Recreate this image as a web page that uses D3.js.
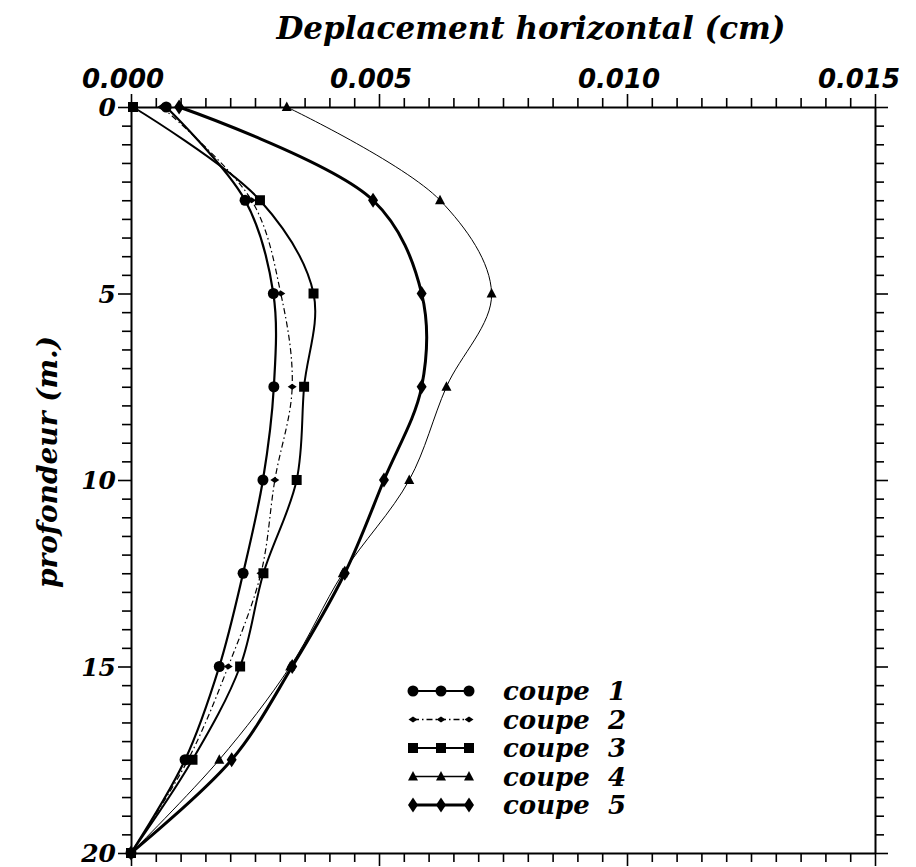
<!DOCTYPE html>
<html>
<head>
<meta charset="utf-8">
<script src="https://cdn.jsdelivr.net/npm/d3@7"></script>
<style>
  body { margin: 0; background: #fff; }
  svg text { fill: #000; }
</style>
</head>
<body>
<div class="graph"></div>
<script>
// depth (m) on the vertical, horizontal displacement (cm) on the horizontal
const depths = [0, 2.5, 5, 7.5, 10, 12.5, 15, 17.5, 20];
const coupe1 = [0.00071, 0.00230, 0.00287, 0.00288, 0.00266, 0.00226, 0.00178, 0.00109, 0];
const coupe2 = [0.00062, 0.00243, 0.00302, 0.00325, 0.00290, 0.00262, 0.00196, 0.00115, 0];
const coupe3 = [0.00004, 0.00260, 0.00368, 0.00349, 0.00334, 0.00267, 0.00220, 0.00124, 0];
const coupe4 = [0.00314, 0.00623, 0.00727, 0.00636, 0.00561, 0.00427, 0.00321, 0.00178, 0];
const coupe5 = [0.00097, 0.00488, 0.00586, 0.00586, 0.00510, 0.00431, 0.00325, 0.00203, 0];
const seriesNames = ["coupe  1", "coupe  2", "coupe  3", "coupe  4", "coupe  5"];
const xTickValues = [0, 0.005, 0.010, 0.015];
const yTickValues = [0, 5, 10, 15, 20];
const xTitle = "Deplacement horizontal (cm)";
const yTitle = "profondeur (m.)";

const serifFont = "'DejaVu Serif', serif";
const sansFont = "'DejaVu Sans', sans-serif";

const svg = d3.select(".graph").append("svg").attr("width", 916).attr("height", 867);
const marginLeft = 131, marginTop = 107;
const width = 744, height = 746;
const g = svg.append("g").attr("transform", "translate(" + marginLeft + "," + marginTop + ")");

const xScale = d3.scaleLinear().domain([0, 0.015]).range([0, width]);
const yScale = d3.scaleLinear().domain([0, 20]).range([0, height]);

// minor ticks every 0.0005 cm and 0.5 m
const xMinor = d3.range(0, 31).map(i => i * 0.0005);
const yMinor = d3.range(0, 41).map(i => i * 0.5);
const isMajorX = v => Math.abs(v / 0.005 - Math.round(v / 0.005)) < 1e-6;
const isMajorY = v => Math.abs(v / 5 - Math.round(v / 5)) < 1e-6;

function drawAxis(axis, ticks, isMajor, transform) {
    const a = g.append("g").attr("transform", transform)
        .call(axis.tickValues(ticks).tickFormat("").tickSizeOuter(0).tickPadding(0));
    a.select(".domain").attr("stroke-width", 2);
    a.selectAll(".tick line")
        .attr("stroke-width", 1.6)
        .each(function(d) {
            const line = d3.select(this);
            const k = isMajor(d) ? 13 : 9;
            if (line.attr("x2") && +line.attr("x2") !== 0) line.attr("x2", Math.sign(+line.attr("x2")) * k);
            if (line.attr("y2") && +line.attr("y2") !== 0) line.attr("y2", Math.sign(+line.attr("y2")) * k);
        });
    return a;
}
drawAxis(d3.axisTop(xScale), xMinor, isMajorX, "translate(0,0)");
drawAxis(d3.axisBottom(xScale), xMinor, isMajorX, "translate(0," + height + ")");
drawAxis(d3.axisLeft(yScale), yMinor, isMajorY, "translate(0,0)");
drawAxis(d3.axisRight(yScale), yMinor, isMajorY, "translate(" + width + ",0)");

// tick labels
g.selectAll(".xlab").data(xTickValues).join("text")
    .attr("class", "xlab")
    .attr("x", d => xScale(d))
    .attr("dx", (d, i) => i === xTickValues.length - 1 ? -16 : -8)
    .attr("y", -19)
    .attr("text-anchor", "middle")
    .style("font-family", sansFont)
    .style("font-weight", "bold")
    .style("font-style", "italic")
    .style("font-size", "26px")
    .text(d => d3.format(".3f")(d));

g.selectAll(".ylab").data(yTickValues).join("text")
    .attr("class", "ylab")
    .attr("x", -15)
    .attr("y", d => yScale(d) + 9)
    .attr("text-anchor", "end")
    .style("font-family", serifFont)
    .style("font-weight", "bold")
    .style("font-style", "italic")
    .style("font-size", "25px")
    .text(d => d);

svg.append("text")
    .attr("x", 531)
    .attr("y", 39)
    .attr("text-anchor", "middle")
    .style("font-family", serifFont)
    .style("font-weight", "bold")
    .style("font-style", "italic")
    .style("font-size", "31px")
    .text(xTitle);

svg.append("text")
    .attr("transform", "translate(57,462) rotate(-90)")
    .attr("text-anchor", "middle")
    .style("font-family", serifFont)
    .style("font-weight", "bold")
    .style("font-style", "italic")
    .style("font-size", "28px")
    .text(yTitle);

// series styles
const series = [
    { name: seriesNames[0], values: coupe1, width: 2.2, dash: null, marker: "circle" },
    { name: seriesNames[1], values: coupe2, width: 1.2, dash: "6,3,1.5,3", marker: "small" },
    { name: seriesNames[2], values: coupe3, width: 2, dash: null, marker: "square" },
    { name: seriesNames[3], values: coupe4, width: 1, dash: null, marker: "triangle" },
    { name: seriesNames[4], values: coupe5, width: 3, dash: null, marker: "diamond" }
];

function markerPath(type) {
    if (type === "circle") return d3.symbol(d3.symbolCircle, 95)();
    if (type === "square") return d3.symbol(d3.symbolSquare, 100)();
    if (type === "triangle") return "M0,-5.5L5,4L-5,4Z";
    if (type === "diamond") return "M0,-7.5L5,0L0,7.5L-5,0Z";
    return "M0,-3L4.5,0L0,3L-4.5,0Z";
}

const line = d3.line()
    .x(d => xScale(d[1]))
    .y(d => yScale(d[0]))
    .curve(d3.curveCatmullRom.alpha(0.5));

series.forEach(s => {
    const pts = depths.map((dep, i) => [dep, s.values[i]]);
    g.append("path")
        .attr("d", line(pts))
        .attr("fill", "none")
        .attr("stroke", "#000")
        .attr("stroke-width", s.width)
        .attr("stroke-dasharray", s.dash);
    g.selectAll(null).data(pts).join("path")
        .attr("transform", d => "translate(" + xScale(d[1]) + "," + yScale(d[0]) + ")")
        .attr("d", markerPath(s.marker))
        .attr("fill", "#000");
});

// legend
const legend = svg.append("g").attr("transform", "translate(413,691)");
series.forEach((s, i) => {
    const row = legend.append("g").attr("transform", "translate(0," + (i * 28.5) + ")");
    row.append("line")
        .attr("x1", 0).attr("x2", 56)
        .attr("stroke", "#000")
        .attr("stroke-width", Math.max(s.width, 1.6))
        .attr("stroke-dasharray", s.dash);
    [0, 28, 56].forEach(px => {
        row.append("path")
            .attr("transform", "translate(" + px + ",0)")
            .attr("d", markerPath(s.marker))
            .attr("fill", "#000");
    });
    row.append("text")
        .attr("x", 90)
        .attr("y", 9)
        .attr("xml:space", "preserve")
        .style("white-space", "pre")
        .style("font-family", serifFont)
        .style("font-weight", "bold")
        .style("font-style", "italic")
        .style("font-size", "26px")
        .text(s.name);
});
</script>
</body>
</html>
